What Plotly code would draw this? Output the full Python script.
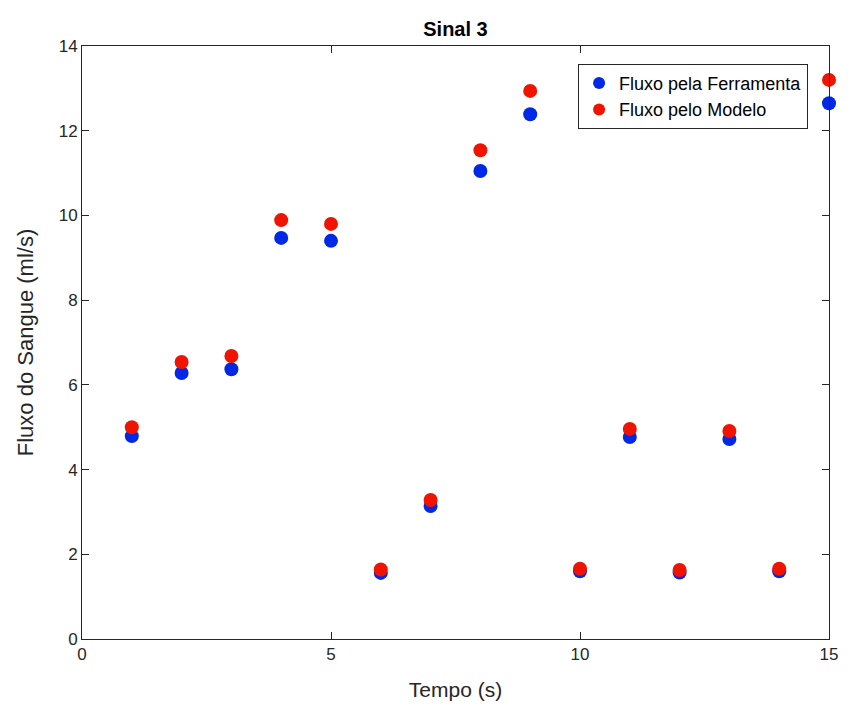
import plotly.graph_objects as go

tempo = [1, 2, 3, 4, 5, 6, 7, 8, 9, 10, 11, 12, 13, 14, 15]
fluxo_ferramenta = [4.79, 6.28, 6.37, 9.47, 9.40, 1.56, 3.14, 11.05, 12.39, 1.60, 4.77, 1.57, 4.72, 1.60, 12.65]
fluxo_modelo = [5.00, 6.54, 6.68, 9.89, 9.80, 1.64, 3.28, 11.54, 12.94, 1.66, 4.96, 1.63, 4.91, 1.66, 13.20]

FONT = "Liberation Sans, Arial"
fig = go.Figure()
fig.add_trace(go.Scatter(x=tempo, y=fluxo_ferramenta, mode="markers", name="Fluxo pela Ferramenta",
                         marker=dict(color="#0028e6", size=14), cliponaxis=False))
fig.add_trace(go.Scatter(x=tempo, y=fluxo_modelo, mode="markers", name="Fluxo pelo Modelo",
                         marker=dict(color="#f01400", size=14), cliponaxis=False))

axis_common = dict(showgrid=False, zeroline=False, showline=True, linecolor="#262626", linewidth=1,
                   mirror="allticks", ticks="inside", ticklen=7, tickcolor="#262626",
                   tickfont=dict(family=FONT, size=17, color="#262626"))
fig.update_xaxes(range=[0, 15], tickvals=[0, 5, 10, 15],
                 title=dict(text="Tempo (s)", font=dict(family=FONT, size=21, color="#262626"), standoff=18),
                 **axis_common)
fig.update_yaxes(range=[0, 14], tickvals=[0, 2, 4, 6, 8, 10, 12, 14],
                 title=dict(text="Fluxo do Sangue (ml/s)", font=dict(family=FONT, size=22, color="#262626"), standoff=18),
                 **axis_common)
fig.update_layout(
    width=848, height=715,
    margin=dict(l=82, r=10, t=46, b=76),
    plot_bgcolor="white", paper_bgcolor="white",
    title=dict(text="<b>Sinal 3</b>", x=0.5, xref="paper", xanchor="center", y=1 - 29/715, yanchor="middle",
               font=dict(family=FONT, size=20, color="black")),
    legend=dict(x=0.972, y=0.97, xanchor="right", yanchor="top", bordercolor="#262626", borderwidth=1,
                bgcolor="white", font=dict(family=FONT, size=18, color="black"),
                itemsizing="constant", tracegroupgap=0, itemwidth=30),
    showlegend=True,
)
fig.write_html("out.html")
